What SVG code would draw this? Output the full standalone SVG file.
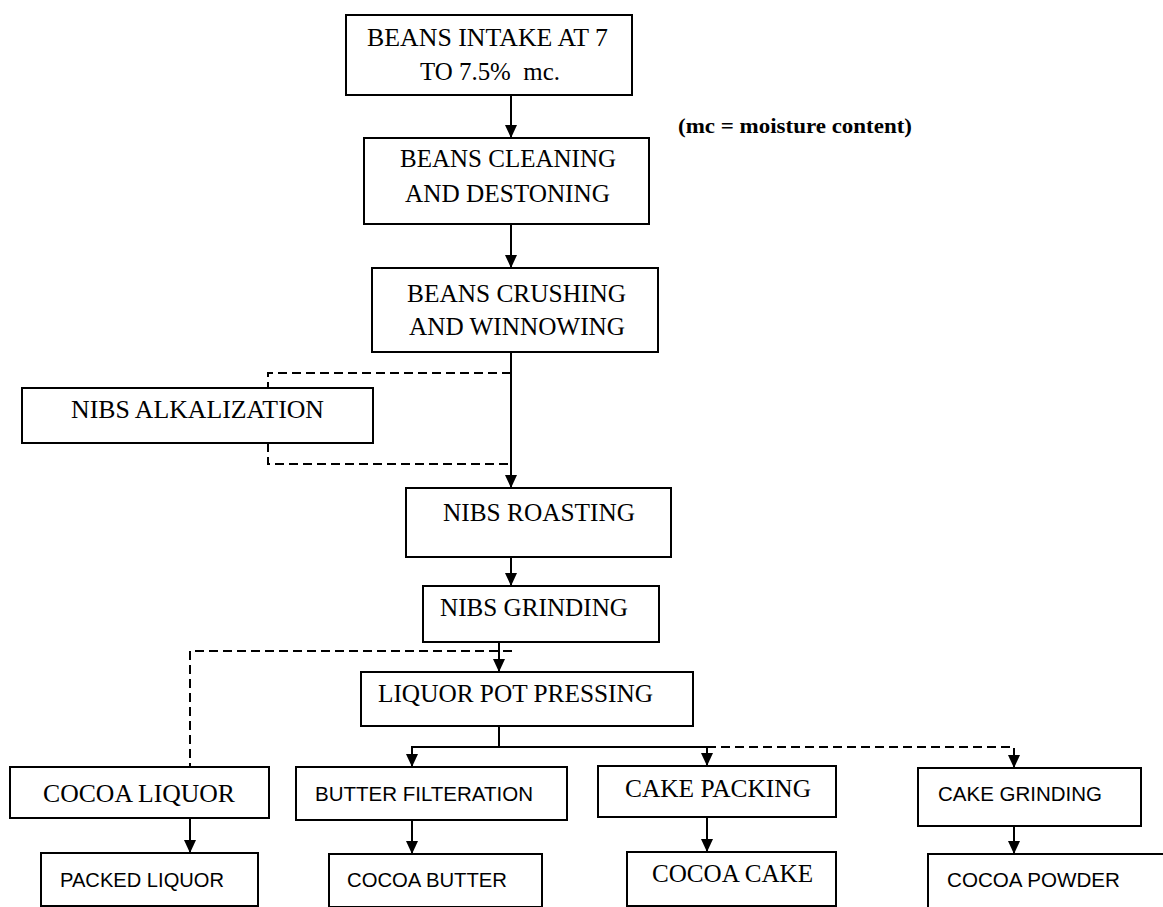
<svg xmlns="http://www.w3.org/2000/svg" width="1163" height="907" viewBox="0 0 1163 907">
<style>
.box{fill:#fff;stroke:#000;stroke-width:2}
.t{font-family:"Liberation Serif","Times New Roman",serif;font-size:25px;fill:#000}
.s{font-family:"Liberation Sans",Arial,sans-serif;font-size:21px;fill:#000}
.c{fill:none;stroke:#000;stroke-width:2}
.d{fill:none;stroke:#000;stroke-width:2;stroke-dasharray:9 5}
.note{font-family:"Liberation Serif","Times New Roman",serif;font-size:20px;font-weight:bold;fill:#000}
</style>
<defs>
<marker id="ah" viewBox="0 0 13 12" refX="13" refY="6" markerWidth="13" markerHeight="12" orient="auto" markerUnits="userSpaceOnUse"><path d="M0,0 L13,6 L0,12 z" fill="#000"/></marker>
</defs>
<rect width="1163" height="907" fill="#fff"/>
<g id="connectors">
<path class="c" d="M511,95 V138" marker-end="url(#ah)"/>
<path class="c" d="M511,224 V268" marker-end="url(#ah)"/>
<path class="c" d="M511,352 V488" marker-end="url(#ah)"/>
<path class="d" d="M511,373 H268 V388"/>
<path class="d" d="M268,443 V464 H511"/>
<path class="c" d="M511,557 V586" marker-end="url(#ah)"/>
<path class="c" d="M499,642 V672" marker-end="url(#ah)"/>
<path class="d" d="M512,651 H190 V767"/>
<path class="c" d="M499,726 V747 M412,747 H707"/>
<path class="c" d="M412,746 V767" marker-end="url(#ah)"/>
<path class="c" d="M707,746 V766" marker-end="url(#ah)"/>
<path class="d" d="M707,747 H1014"/>
<path class="c" d="M1014,748 V768" marker-end="url(#ah)"/>
<path class="c" d="M190,818 V853" marker-end="url(#ah)"/>
<path class="c" d="M412,820 V854" marker-end="url(#ah)"/>
<path class="c" d="M707,817 V852" marker-end="url(#ah)"/>
<path class="c" d="M1014,826 V854" marker-end="url(#ah)"/>
</g>
<g id="note"><text class="note" x="678" y="133" textLength="234" lengthAdjust="spacingAndGlyphs">(mc = moisture content)</text></g>
<g id="beans-intake"><rect class="box" x="346" y="15" width="286" height="80"/>
<text class="t" x="367" y="46" textLength="241" lengthAdjust="spacingAndGlyphs">BEANS INTAKE AT 7</text>
<text class="t" x="420" y="80" textLength="140" lengthAdjust="spacingAndGlyphs" xml:space="preserve">TO 7.5%  mc.</text></g>
<g id="beans-cleaning"><rect class="box" x="364" y="138" width="285" height="86"/>
<text class="t" x="400" y="167" textLength="216" lengthAdjust="spacingAndGlyphs">BEANS CLEANING</text>
<text class="t" x="405" y="202" textLength="205" lengthAdjust="spacingAndGlyphs">AND DESTONING</text></g>
<g id="beans-crushing"><rect class="box" x="372" y="268" width="286" height="84"/>
<text class="t" x="407" y="302" textLength="219" lengthAdjust="spacingAndGlyphs">BEANS CRUSHING</text>
<text class="t" x="409" y="335" textLength="216" lengthAdjust="spacingAndGlyphs">AND WINNOWING</text></g>
<g id="nibs-alkalization"><rect class="box" x="22" y="388" width="351" height="55"/>
<text class="t" x="71" y="418" textLength="253" lengthAdjust="spacingAndGlyphs">NIBS ALKALIZATION</text></g>
<g id="nibs-roasting"><rect class="box" x="406" y="488" width="265" height="69"/>
<text class="t" x="443" y="521" textLength="192" lengthAdjust="spacingAndGlyphs">NIBS ROASTING</text></g>
<g id="nibs-grinding"><rect class="box" x="423" y="586" width="236" height="56"/>
<text class="t" x="440" y="616" textLength="188" lengthAdjust="spacingAndGlyphs">NIBS GRINDING</text></g>
<g id="liquor-pot-pressing"><rect class="box" x="361" y="672" width="332" height="54"/>
<text class="t" x="378" y="702" textLength="275" lengthAdjust="spacingAndGlyphs">LIQUOR POT PRESSING</text></g>
<g id="cocoa-liquor"><rect class="box" x="10" y="767" width="259" height="51"/>
<text class="t" x="43" y="802" textLength="192" lengthAdjust="spacingAndGlyphs">COCOA LIQUOR</text></g>
<g id="butter-filteration"><rect class="box" x="296" y="767" width="271" height="53"/>
<text class="s" x="315" y="801" textLength="218" lengthAdjust="spacingAndGlyphs">BUTTER FILTERATION</text></g>
<g id="cake-packing"><rect class="box" x="598" y="766" width="238" height="51"/>
<text class="t" x="625" y="797" textLength="186" lengthAdjust="spacingAndGlyphs">CAKE PACKING</text></g>
<g id="cake-grinding"><rect class="box" x="918" y="768" width="223" height="58"/>
<text class="s" x="938" y="801" textLength="164" lengthAdjust="spacingAndGlyphs">CAKE GRINDING</text></g>
<g id="packed-liquor"><rect class="box" x="41" y="853" width="217" height="53"/>
<text class="s" x="60" y="887" textLength="164" lengthAdjust="spacingAndGlyphs">PACKED LIQUOR</text></g>
<g id="cocoa-butter"><rect class="box" x="329" y="854" width="213" height="53"/>
<text class="s" x="347" y="887" textLength="160" lengthAdjust="spacingAndGlyphs">COCOA BUTTER</text></g>
<g id="cocoa-cake"><rect class="box" x="627" y="852" width="209" height="54"/>
<text class="t" x="652" y="882" textLength="161" lengthAdjust="spacingAndGlyphs">COCOA CAKE</text></g>
<g id="cocoa-powder"><rect class="box" x="928" y="854" width="245" height="60"/>
<text class="s" x="947" y="887" textLength="173" lengthAdjust="spacingAndGlyphs">COCOA POWDER</text></g>
</svg>
